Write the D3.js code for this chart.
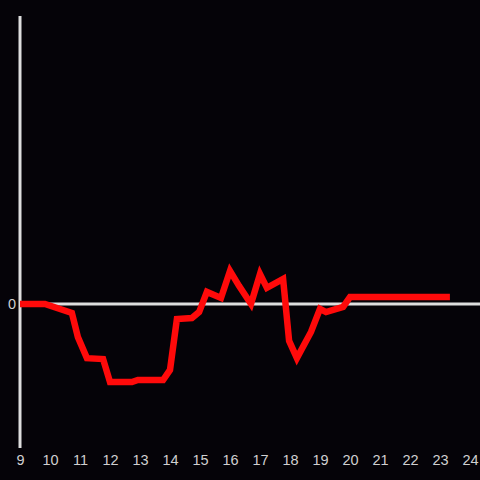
<!DOCTYPE html>
<html>
<head>
<meta charset="utf-8">
<script src="https://cdn.jsdelivr.net/npm/d3@7"></script>
<style>
  html, body { margin: 0; padding: 0; background: #050308; }
  svg { display: block; }
</style>
</head>
<body>
<svg id="chart"></svg>
<script>
"use strict";

// time of day (hours) and value
var hours = [9.0, 9.83, 10.73, 10.93, 11.23, 11.77, 12.0, 12.73, 12.93, 13.77, 14.0, 14.23,
    14.73, 14.97, 15.23, 15.7, 16.0, 16.3, 16.7, 17.0, 17.23, 17.77, 17.97, 18.23, 18.7,
    19.0, 19.2, 19.77, 20.0, 23.33];
var values = [0, 0, -3.1, -11.5, -18.8, -19.1, -27.1, -27.1, -26.4, -26.4, -22.9, -5.2,
    -4.9, -2.8, 4.2, 2.1, 11.5, 6.3, 0, 10.4, 5.6, 8.7, -12.8, -18.8, -9.7,
    -1.7, -2.8, -1.0, 2.4, 2.4];
var xTicks = [9, 10, 11, 12, 13, 14, 15, 16, 17, 18, 19, 20, 21, 22, 23, 24];
var yTicks = [0];

(function () {
    var width = 480, height = 480;

    var svg = d3.select("#chart")
        .attr("width", width)
        .attr("height", height);

    svg.append("rect")
        .attr("width", width)
        .attr("height", height)
        .attr("fill", "#050308");

    var xScale = d3.scaleLinear()
        .domain([9, 24])
        .range([20, 470]);

    var yScale = d3.scaleLinear()
        .domain([-50, 100])
        .range([448, 16]);

    var data = hours.map(function (h, i) { return { h: h, v: values[i] }; });

    // x tick labels
    var xAxis = svg.append("g")
        .attr("transform", "translate(0,452)")
        .call(d3.axisBottom(xScale).tickValues(xTicks).tickSize(0).tickFormat(d3.format("d")));
    xAxis.select(".domain").remove();
    xAxis.selectAll("text")
        .attr("fill", "#d0d0d0")
        .style("font-family", "'Liberation Sans', Arial, sans-serif")
        .style("font-size", "14.5px");

    // y tick label
    var yAxis = svg.append("g")
        .attr("transform", "translate(20,0)")
        .call(d3.axisLeft(yScale).tickValues(yTicks).tickSize(0).tickPadding(4));
    yAxis.select(".domain").remove();
    yAxis.selectAll("text")
        .attr("fill", "#d0d0d0")
        .style("font-family", "'Liberation Sans', Arial, sans-serif")
        .style("font-size", "14.5px");

    // zero line
    svg.append("line")
        .attr("x1", xScale(9))
        .attr("x2", width)
        .attr("y1", yScale(0))
        .attr("y2", yScale(0))
        .attr("stroke", "#dedede")
        .attr("stroke-width", 3);

    // vertical axis
    svg.append("line")
        .attr("x1", xScale(9))
        .attr("x2", xScale(9))
        .attr("y1", 16)
        .attr("y2", 448)
        .attr("stroke", "#dedede")
        .attr("stroke-width", 3);

    var line = d3.line()
        .x(function (d) { return xScale(d.h); })
        .y(function (d) { return yScale(d.v); });

    svg.append("path")
        .datum(data)
        .attr("d", line)
        .attr("fill", "none")
        .attr("stroke", "#ff0a0a")
        .attr("stroke-width", 6.5)
        .attr("stroke-linejoin", "miter");
})();
</script>
</body>
</html>
